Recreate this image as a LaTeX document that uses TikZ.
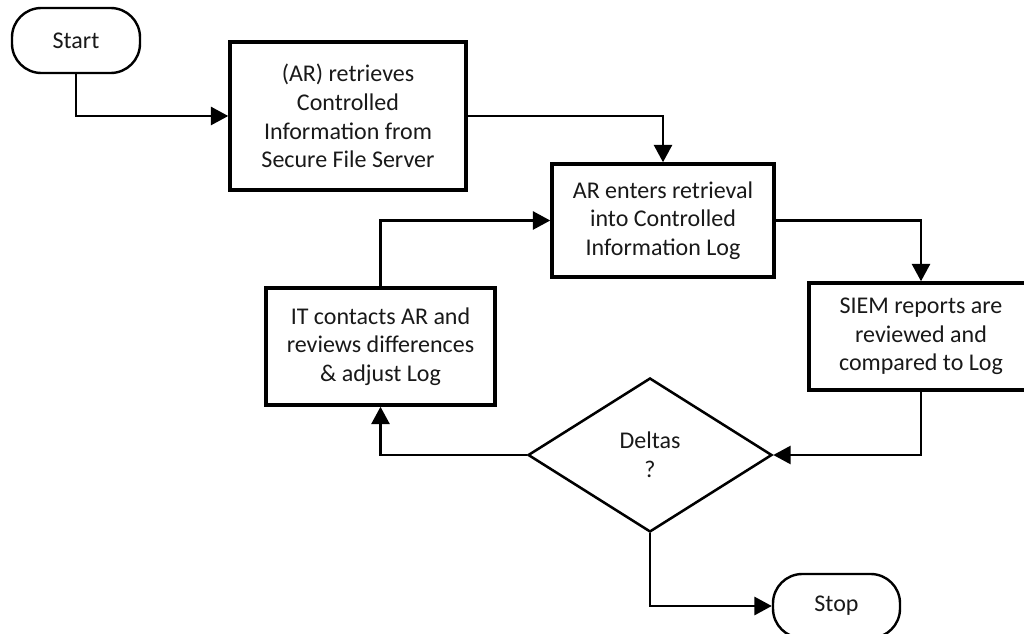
\documentclass[tikz,border=0pt]{standalone}
\usepackage{fontspec}
\setmainfont{Carlito}
\usetikzlibrary{arrows.meta,shapes.geometric}
\begin{document}
\begin{tikzpicture}[x=0.75pt,y=-0.75pt,
  every node/.style={font=\fontsize{18}{21.5}\selectfont, align=center, text=black!90, inner sep=0pt},
  procbox/.style={draw, line width=2.6pt, rectangle, fill=white},
  termbox/.style={draw, line width=1.8pt, rectangle, rounded corners=22pt, fill=white},
  decbox/.style={draw, line width=1.9pt, diamond, aspect=1.58, fill=white},
  conn/.style={line width=1.9pt, -{Triangle[length=13pt,width=13.5pt]}}
]
\useasboundingbox (0,0) rectangle (1024,634);
\node[termbox, minimum width=96pt, minimum height=48.75pt] (start) at (76,40.5) {Start};
\node[procbox, minimum width=177pt, minimum height=111pt] (box1) at (348,116) {(AR) retrieves\\Controlled\\Information from\\Secure File Server};
\node[procbox, minimum width=166.5pt, minimum height=84.75pt] (box2) at (663,220.5) {AR enters retrieval\\into Controlled\\Information Log};
\node[procbox, minimum width=168pt, minimum height=80.25pt] (siem) at (921,336.5) {SIEM reports are\\reviewed and\\compared to Log};
\node[procbox, minimum width=171.75pt, minimum height=87.75pt] (it) at (380.5,346.5) {IT contacts AR and\\reviews differences\\\& adjust Log};
\node[decbox, minimum width=183pt, minimum height=115.5pt] (delta) at (650,455) {Deltas\\?};
\node[termbox, minimum width=95.25pt, minimum height=48pt] (stop) at (836.5,606) {Stop};
\draw[conn] (start.south) |- (box1.west);
\draw[conn] (box1.east) -| (box2.north);
\draw[conn] (box2.east) -| (siem.north);
\draw[conn] (siem.south) |- (delta.east);
\draw[conn] (delta.west) -| (it.south);
\draw[conn] (it.north) |- (box2.west);
\draw[conn] (delta.south) |- (stop.west);
\end{tikzpicture}
\end{document}
